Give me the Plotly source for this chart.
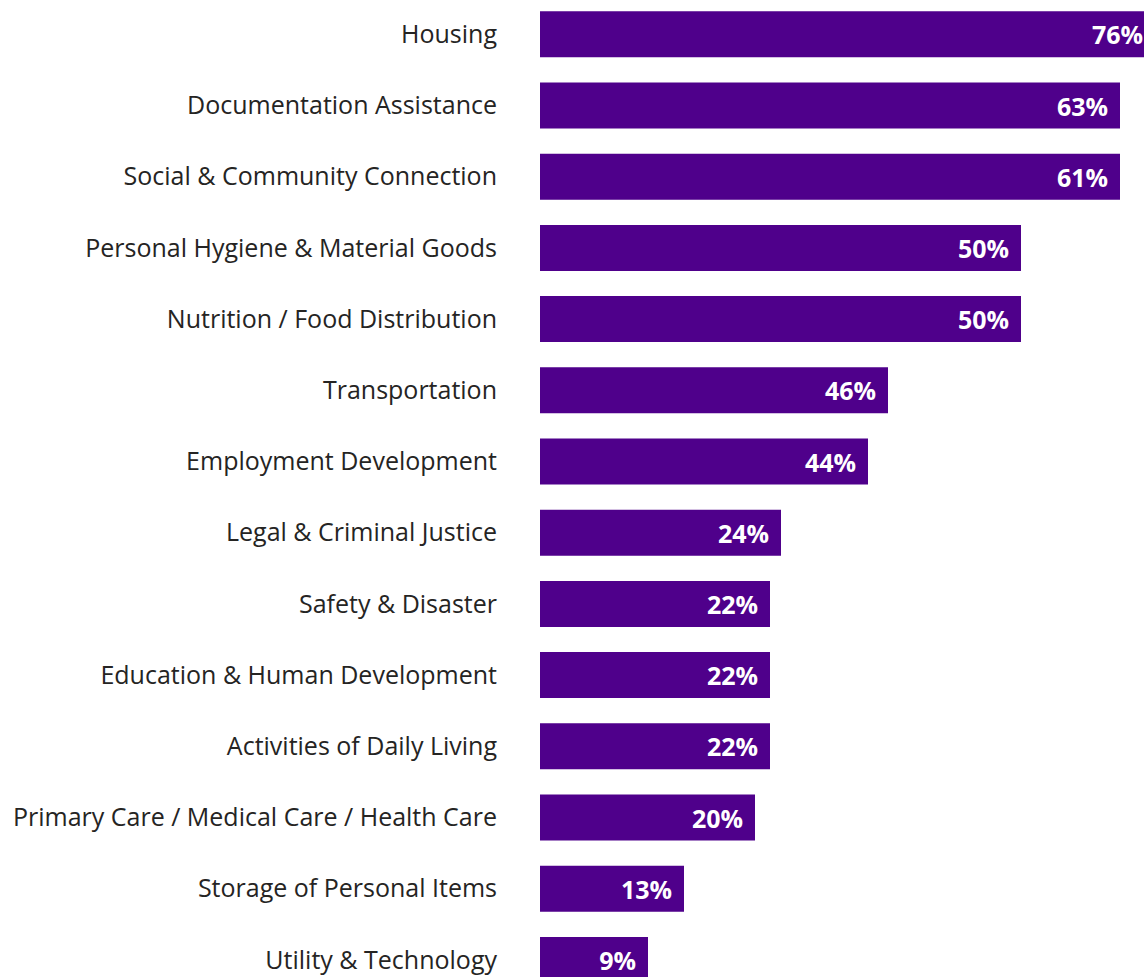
import plotly.graph_objects as go

categories = [
    "Housing",
    "Documentation Assistance",
    "Social & Community Connection",
    "Personal Hygiene & Material Goods",
    "Nutrition / Food Distribution",
    "Transportation",
    "Employment Development",
    "Legal & Criminal Justice",
    "Safety & Disaster",
    "Education & Human Development",
    "Activities of Daily Living",
    "Primary Care / Medical Care / Health Care",
    "Storage of Personal Items",
    "Utility & Technology",
]
# bar lengths as drawn
bar_values = [61.5, 58.0, 58.0, 48.1, 48.1, 34.8, 32.8, 24.1, 23.0, 23.0, 23.0, 21.5, 14.4, 10.8]
# percentage labels shown on the bars
pct_labels = [76, 63, 61, 50, 50, 46, 44, 24, 22, 22, 22, 20, 13, 9]

PAD = "\u00a0\u200a"
texts = [f"{p}%{PAD}" for p in pct_labels]

fig = go.Figure(
    go.Bar(
        x=bar_values,
        y=categories,
        orientation="h",
        marker=dict(color="#4F008B", line=dict(width=0)),
        width=0.646,
        text=texts,
        textposition="inside",
        insidetextanchor="end",
        textangle=0,
        textfont=dict(family="Open Sans", size=25, color="white", weight="bold"),
        cliponaxis=True,
        hoverinfo="skip",
    )
)

fig.update_layout(
    width=1144,
    height=977,
    margin=dict(l=540, r=0, t=0, b=0),
    paper_bgcolor="white",
    plot_bgcolor="white",
    showlegend=False,
    hovermode=False,
    uniformtext=dict(minsize=8, mode="show"),
    font=dict(family="Open Sans", color="#252423"),
)
fig.update_xaxes(range=[0, 60.4], visible=False, showgrid=False, zeroline=False)
fig.update_yaxes(
    type="category",
    range=[13.24, -0.4817],
    showgrid=False,
    zeroline=False,
    showline=False,
    ticks="",
    ticklabelstandoff=42,
    tickfont=dict(family="Open Sans", size=25, color="#252423"),
)

fig.write_html(
    "out.html",
    config={"displayModeBar": False, "staticPlot": True},
    post_script="document.body.style.margin='0';document.body.style.overflow='hidden';document.documentElement.style.overflow='hidden';",
)
